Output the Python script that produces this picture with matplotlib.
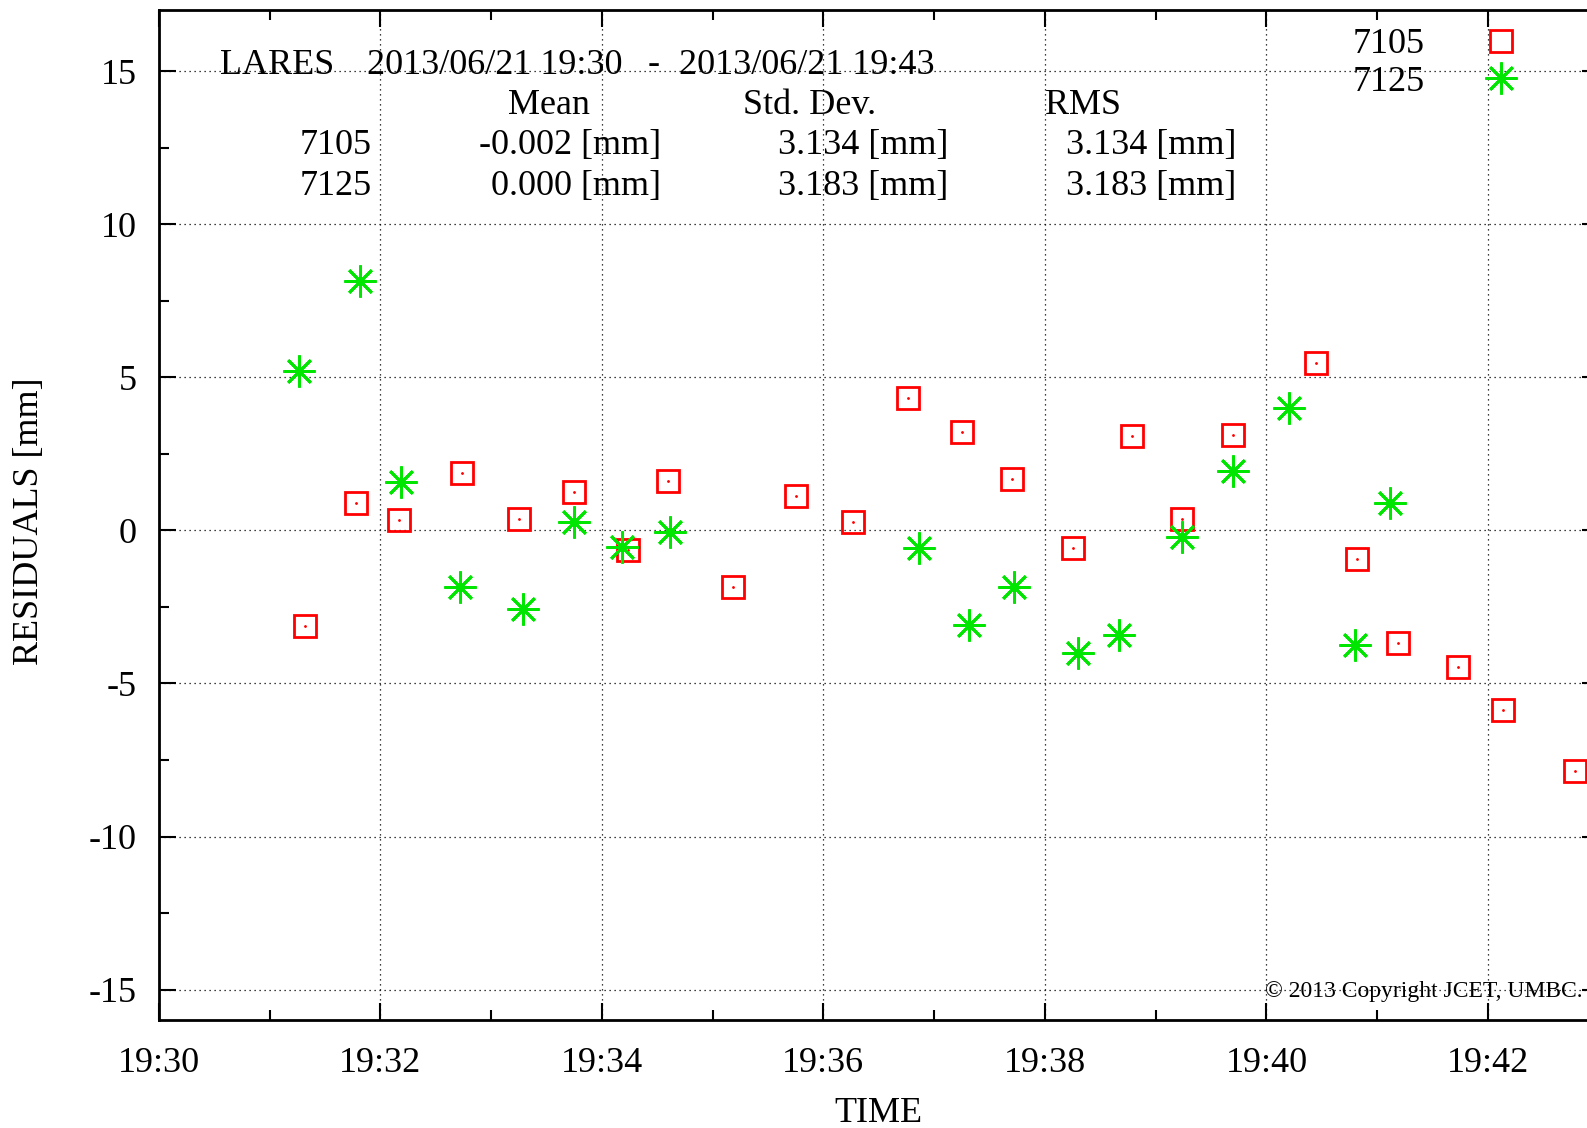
import pandas as pd
import matplotlib
matplotlib.use('Agg')
import matplotlib.pyplot as plt
import matplotlib.dates as mdates
from matplotlib.ticker import MultipleLocator

day = '2013-06-21 '

# station 7105 residuals
t_7105 = ['19:31:19', '19:31:47', '19:32:10', '19:32:44', '19:33:15', '19:33:45',
          '19:34:14', '19:34:36', '19:35:11', '19:35:45', '19:36:16', '19:36:46',
          '19:37:15', '19:37:42', '19:38:15', '19:38:47', '19:39:14', '19:39:42',
          '19:40:27', '19:40:49', '19:41:11', '19:41:44', '19:42:08', '19:42:47']
r_7105 = [-3.13, 0.88, 0.35, 1.87, 0.38, 1.27,
          -0.65, 1.60, -1.84, 1.14, 0.28, 4.32,
          3.23, 1.67, -0.58, 3.09, 0.38, 3.13,
          5.47, -0.94, -3.69, -4.45, -5.87, -7.86]

# station 7125 residuals
t_7125 = ['19:31:16', '19:31:49', '19:32:11', '19:32:43', '19:33:17', '19:33:45',
          '19:34:11', '19:34:37', '19:36:52', '19:37:19', '19:37:43', '19:38:18',
          '19:38:40', '19:39:14', '19:39:42', '19:40:12', '19:40:48', '19:41:07']
r_7125 = [5.21, 8.15, 1.57, -1.84, -2.56, 0.28,
          -0.55, -0.05, -0.58, -3.09, -1.84, -3.99,
          -3.42, -0.22, 1.94, 3.99, -3.75, 0.91]

stations = ['7105', '7125']
means = ['-0.002 [mm]', '0.000 [mm]']
stds = ['3.134 [mm]', '3.183 [mm]']
rms = ['3.134 [mm]', '3.183 [mm]']

plt.rcParams['font.family'] = ['Liberation Serif', 'DejaVu Serif']
plt.rcParams['axes.unicode_minus'] = False
fs = 26

W, H = 1587, 1128
fig = plt.figure(figsize=(W / 100, H / 100), dpi=100)
ax = fig.add_axes([0.1001, 0.0956, 0.9073, 0.8955])


# pixel position -> figure fraction
def fx(x):
    return x / W


def fy(y):
    return 1 - y / H


x1 = pd.to_datetime([day + t for t in t_7105])
x2 = pd.to_datetime([day + t for t in t_7125])

ax.plot(x1, r_7105, linestyle='none', marker='s', markersize=16, markerfacecolor='none',
        markeredgecolor='red', markeredgewidth=2, label='7105')
ax.plot(x1, r_7105, linestyle='none', marker='.', markersize=2, color='red')
ax.plot(x2, r_7125, linestyle='none', marker=(8, 2, 0), markersize=23,
        markeredgecolor='#00e600', markeredgewidth=2, label='7125')

ax.set_xlim(pd.Timestamp(day + '19:30'), pd.Timestamp(day + '19:43'))
ax.set_ylim(-16, 17)

ax.xaxis.set_major_locator(mdates.MinuteLocator(byminute=range(0, 60, 2)))
ax.xaxis.set_minor_locator(mdates.MinuteLocator())
ax.xaxis.set_major_formatter(mdates.DateFormatter('%H:%M'))
ax.yaxis.set_major_locator(MultipleLocator(5))
ax.yaxis.set_minor_locator(MultipleLocator(2.5))

ax.tick_params(which='both', direction='in', top=True, right=True, width=1.5, labelsize=fs)
ax.tick_params(which='major', length=12)
ax.tick_params(which='minor', length=7)
ax.tick_params(axis='y', pad=16)
ax.tick_params(axis='x', pad=19)
for s in ax.spines.values():
    s.set_linewidth(2)

ax.grid(True, which='major', color='black', linestyle=(0, (1, 3)), linewidth=0.9)

fig.text(fx(878), fy(1114), 'TIME', fontsize=fs, ha='center', va='center')
fig.text(fx(30), fy(521), 'RESIDUALS [mm]', fontsize=fs, rotation=90, ha='center', va='center')

# header block
hy = fy(65)
fig.text(fx(220), hy, 'LARES', fontsize=fs, ha='left', va='center')
fig.text(fx(367), hy, '2013/06/21 19:30', fontsize=fs, ha='left', va='center')
fig.text(fx(648), hy, '-', fontsize=fs, ha='left', va='center')
fig.text(fx(679), hy, '2013/06/21 19:43', fontsize=fs, ha='left', va='center')
fig.text(fx(549), fy(105), 'Mean', fontsize=fs, ha='center', va='center')
fig.text(fx(810), fy(105), 'Std. Dev.', fontsize=fs, ha='center', va='center')
fig.text(fx(1045), fy(105), 'RMS', fontsize=fs, ha='left', va='center')
for i, st in enumerate(stations):
    yy = fy(146 + 40.5 * i)
    fig.text(fx(372), yy, st, fontsize=fs, ha='right', va='center')
    fig.text(fx(661), yy, means[i], fontsize=fs, ha='right', va='center')
    fig.text(fx(948), yy, stds[i], fontsize=fs, ha='right', va='center')
    fig.text(fx(1236), yy, rms[i], fontsize=fs, ha='right', va='center')

ax.legend(loc='upper right', bbox_to_anchor=(fx(1519), fy(28)), bbox_transform=fig.transFigure,
          frameon=False, markerfirst=False, numpoints=1, fontsize=fs,
          handlelength=1.0, handletextpad=1.6, labelspacing=0.12, borderpad=0, borderaxespad=0)

fig.text(fx(1265), fy(992), '\u00a9 2013 Copyright JCET, UMBC.', fontsize=17,
         ha='left', va='center')

fig.savefig('out.png', dpi=100)
